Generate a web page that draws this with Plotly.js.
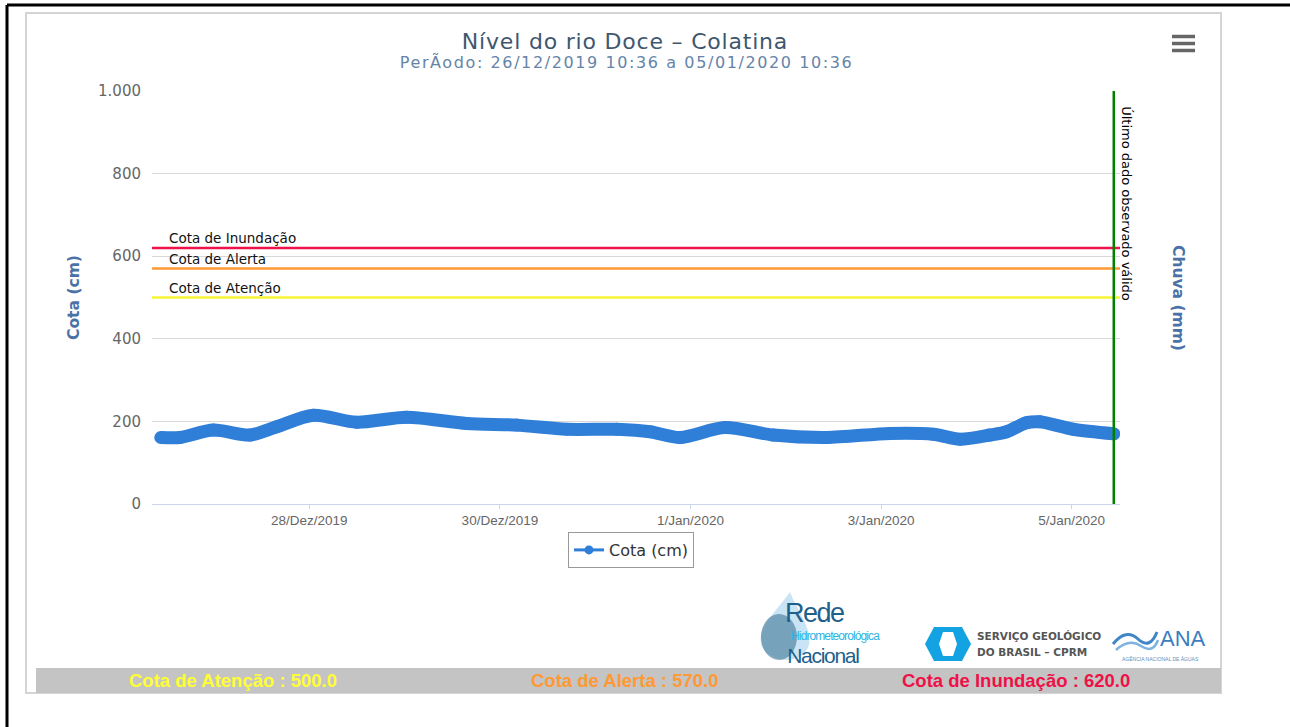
<!DOCTYPE html>
<html>
<head>
<meta charset="utf-8">
<script src="https://cdn.plot.ly/plotly-3.0.1.min.js"></script>
<style>
  html, body { margin: 0; padding: 0; background: #ffffff; }
  #chart { width: 1290px; height: 727px; }
  .gtitle { letter-spacing: 0.8px; }
</style>
</head>
<body>
<div id="chart"></div>
<script>
// ---------------- DATA ----------------
const times = [
  '2019-12-26 10:36', '2019-12-26 15:26', '2019-12-26 23:50', '2019-12-27 09:04',
  '2019-12-27 15:47', '2019-12-28 01:00', '2019-12-28 11:56', '2019-12-29 00:32',
  '2019-12-29 15:39', '2019-12-30 04:14', '2019-12-30 16:50', '2019-12-31 05:25',
  '2019-12-31 13:48', '2019-12-31 21:22', '2020-01-01 08:41', '2020-01-01 20:51',
  '2020-01-02 10:18', '2020-01-03 02:14', '2020-01-03 13:09', '2020-01-03 19:52',
  '2020-01-04 03:26', '2020-01-04 07:38', '2020-01-04 12:40', '2020-01-04 16:00',
  '2020-01-05 00:24', '2020-01-05 10:36'
];
const cota = [
  161, 161, 179, 167,
  187, 215, 198, 210,
  195, 191, 181, 181,
  175, 161, 185, 167,
  161, 171, 169, 157,
  167, 175, 197, 199,
  181, 170
];
const lastValidTime = '2020-01-05 10:36';
const xRange = ['2019-12-26 08:23', '2020-01-05 12:10'];
const xTickVals = ['2019-12-28', '2019-12-30', '2020-01-01', '2020-01-03', '2020-01-05'];
const xTickText = ['28/Dez/2019', '30/Dez/2019', '1/Jan/2020', '3/Jan/2020', '5/Jan/2020'];
const cotaTicks = [0, 200, 400, 600, 800, 1000];
const chuvaTicks = [0, 10, 20, 30, 40, 50];
const thresholdNames = ['Cota de Atenção', 'Cota de Alerta', 'Cota de Inundação'];
const thresholdValues = [500, 570, 620];

// ---------------- STYLE ----------------
const thresholdColors = ['#f6f633', '#ff9933', '#f0124a'];
const footerColors = ['#ffff33', '#ff9933', '#ee1148'];
const L = 152, R = 1120, T = 91, B = 504;
const px = x => (x - L) / (R - L);
const py = y => (B - y) / (B - T);
const P = pts => pts.map(p => (typeof p === 'string') ? p : (px(p[0]) + ',' + py(p[1]))).join(' ');

const shapes = [];
const annotations = [];
const spacing = {};

// outer black frame and inner grey frame
shapes.push({type: 'line', xref: 'paper', yref: 'paper', x0: px(7), x1: px(1295), y0: py(5), y1: py(5), line: {color: '#000', width: 3}});
shapes.push({type: 'line', xref: 'paper', yref: 'paper', x0: px(7), x1: px(7), y0: py(5), y1: py(730), line: {color: '#000', width: 3}});
shapes.push({type: 'rect', xref: 'paper', yref: 'paper', x0: px(26), x1: px(1221), y0: py(13), y1: py(693), line: {color: '#d4d4d4', width: 2}});

// menu icon
[36.5, 43.5, 50.5].forEach(y => shapes.push({type: 'line', xref: 'paper', yref: 'paper', x0: px(1172), x1: px(1195), y0: py(y), y1: py(y), line: {color: '#666', width: 3.5}}));

// thresholds
thresholdValues.forEach((v, i) => {
  shapes.push({type: 'line', xref: 'paper', yref: 'y', x0: 0, x1: 1, y0: v, y1: v, line: {color: thresholdColors[i], width: 2.5}, layer: 'above'});
  annotations.push({xref: 'paper', yref: 'y', x: px(167), y: v, xanchor: 'left', yanchor: 'bottom', yshift: 0,
    text: thresholdNames[i], showarrow: false, font: {family: 'DejaVu Sans', size: 13.5, color: '#111'}});
});

// last valid observation
shapes.push({type: 'line', xref: 'x', yref: 'paper', x0: lastValidTime, x1: lastValidTime, y0: 0, y1: 1, line: {color: '#008000', width: 2.5}, layer: 'above'});
annotations.push({xref: 'x', yref: 'paper', x: lastValidTime, y: py(104), xanchor: 'left', yanchor: 'top', xshift: 3, textangle: 90,
  text: 'Último dado observado válido', showarrow: false, font: {family: 'DejaVu Sans', size: 13, color: '#000'}});

// subtitle
spacing[annotations.length] = '1.6px';
annotations.push({xref: 'paper', yref: 'paper', x: px(626), y: py(63), xanchor: 'center', yanchor: 'middle',
  text: 'PerÃodo: 26/12/2019 10:36 a 05/01/2020 10:36', showarrow: false, font: {family: 'DejaVu Sans', size: 16, color: '#6584a8'}});

// right axis title
annotations.push({xref: 'paper', yref: 'paper', x: px(1178), y: py(298), xanchor: 'center', yanchor: 'middle', textangle: 90,
  text: '<b>Chuva (mm)</b>', showarrow: false, font: {family: 'DejaVu Sans', size: 15.5, color: '#4a72a6'}});

// footer bar
shapes.push({type: 'rect', xref: 'paper', yref: 'paper', x0: px(36), x1: px(1221), y0: py(668), y1: py(693), line: {width: 0}, fillcolor: '#c4c4c4'});
const footerX = [233, 624, 1016];
thresholdNames.forEach((n, i) => {
  annotations.push({xref: 'paper', yref: 'paper', x: px(footerX[i]), y: py(680), xanchor: 'center', yanchor: 'middle',
    text: '<b>' + n + ' : ' + thresholdValues[i].toFixed(1) + '</b>', showarrow: false,
    font: {family: 'Liberation Sans', size: 18.5, color: footerColors[i]}});
});

// logos (approximate)
shapes.push({type: 'path', xref: 'paper', yref: 'paper', path: 'M ' + P([[790, 592]]) + ' C ' + P([[776, 612], [758, 626], [761, 643]]) + ' C ' + P([[764, 662], [802, 668], [809, 645]]) + ' C ' + P([[812, 628], [798, 612], [790, 592]]) + ' Z',
  fillcolor: 'rgba(100,180,225,0.35)', line: {width: 0}});
shapes.push({type: 'circle', xref: 'paper', yref: 'paper', x0: px(761), x1: px(797), y0: py(614), y1: py(660), fillcolor: 'rgba(35,95,130,0.5)', line: {width: 0}});
spacing[annotations.length] = '-1.5px';
annotations.push({xref: 'paper', yref: 'paper', x: px(781), y: py(613), xanchor: 'left', yanchor: 'middle', borderpad: 0, text: 'Rede', showarrow: false,
  font: {family: 'Liberation Sans', size: 27, color: '#1f5f8b'}});
spacing[annotations.length] = '-0.9px';
annotations.push({xref: 'paper', yref: 'paper', x: px(782), y: py(636), xanchor: 'left', yanchor: 'middle', borderpad: 0, text: 'Hidrometeorológica', showarrow: false,
  font: {family: 'Liberation Sans', size: 12, color: '#2ab4e6'}});
spacing[annotations.length] = '-1.3px';
annotations.push({xref: 'paper', yref: 'paper', x: px(781), y: py(655), xanchor: 'left', yanchor: 'middle', borderpad: 0, text: 'Nacional', showarrow: false,
  font: {family: 'Liberation Sans', size: 21, color: '#1f5f8b'}});

shapes.push({type: 'path', xref: 'paper', yref: 'paper', path: 'M ' + P([[934, 627], 'L', [962, 627], 'L', [971, 644], 'L', [962, 661], 'L', [934, 661], 'L', [925, 644]]) + ' Z',
  fillcolor: '#13a2e2', line: {width: 0}});
shapes.push({type: 'path', xref: 'paper', yref: 'paper', path: 'M ' + P([[943, 632], 'L', [953, 632], 'L', [957, 644], 'L', [953, 656], 'L', [943, 656], 'L', [939, 644]]) + ' Z',
  fillcolor: '#ffffff', line: {width: 0}});
annotations.push({xref: 'paper', yref: 'paper', x: px(976), y: py(636), xanchor: 'left', yanchor: 'middle', borderpad: 0, text: '<b>SERVIÇO GEOLÓGICO</b>', showarrow: false,
  font: {family: 'DejaVu Sans', size: 10.5, color: '#555'}});
annotations.push({xref: 'paper', yref: 'paper', x: px(976), y: py(652), xanchor: 'left', yanchor: 'middle', borderpad: 0, text: '<b>DO BRASIL – CPRM</b>', showarrow: false,
  font: {family: 'DejaVu Sans', size: 10.5, color: '#555'}});

shapes.push({type: 'path', xref: 'paper', yref: 'paper', path: 'M ' + P([[1113, 644]]) + ' Q ' + P([[1126, 628], [1138, 639]]) + ' T ' + P([[1157, 632]]),
  line: {color: '#3f86c6', width: 3}});
shapes.push({type: 'path', xref: 'paper', yref: 'paper', path: 'M ' + P([[1116, 650]]) + ' Q ' + P([[1129, 638], [1141, 646]]) + ' T ' + P([[1158, 640]]),
  line: {color: '#7fb2de', width: 2.5}});
annotations.push({xref: 'paper', yref: 'paper', x: px(1159), y: py(638), xanchor: 'left', yanchor: 'middle', borderpad: 0, text: 'ANA', showarrow: false,
  font: {family: 'Liberation Sans', size: 22, color: '#3b7dc0'}});
annotations.push({xref: 'paper', yref: 'paper', x: px(1160), y: py(658), xanchor: 'center', yanchor: 'middle', borderpad: 0, text: 'AGÊNCIA NACIONAL DE ÁGUAS', showarrow: false,
  font: {family: 'Liberation Sans', size: 5, color: '#5a8fc0'}});

// letter spacing tweaks (text rendered wider / narrower in the reference)
const st = document.createElement('style');
st.textContent = Object.keys(spacing).map(k => '.annotation[data-index="' + k + '"] text { letter-spacing: ' + spacing[k] + '; }').join('\n');
document.head.appendChild(st);

// ---------------- TRACES ----------------
const traces = [{
  // thin line (legend sample), fully covered by the thick line
  x: times, y: cota, type: 'scatter', mode: 'lines+markers', name: 'Cota (cm)',
  line: {color: '#2f7ed8', width: 3, shape: 'spline', smoothing: 0.8},
  marker: {color: '#2f7ed8', size: 9},
  hoverinfo: 'skip', showlegend: true
}, {
  x: times, y: cota, type: 'scatter', mode: 'lines+markers', name: 'Cota (cm)',
  line: {color: '#2f7ed8', width: 13, shape: 'spline', smoothing: 0.8},
  marker: {color: '#2f7ed8', size: 13},
  hoverinfo: 'x+y', showlegend: false
}];

const layout = {
  width: 1290, height: 727,
  margin: {l: L, r: 1290 - R, t: T, b: 727 - B},
  paper_bgcolor: '#ffffff', plot_bgcolor: '#ffffff',
  separators: ',.',
  font: {family: 'DejaVu Sans', color: '#666'},
  title: {text: 'Nível do rio Doce – Colatina', xref: 'paper', x: px(625), xanchor: 'center', yref: 'container', y: 1 - 41 / 727, yanchor: 'middle',
    font: {family: 'DejaVu Sans', size: 22, color: '#3e576f'}},
  showlegend: true,
  legend: {x: px(631), xanchor: 'center', y: py(532), yanchor: 'top', orientation: 'h',
    bordercolor: '#999', borderwidth: 1, bgcolor: '#fff', font: {family: 'DejaVu Sans', size: 16, color: '#333'}},
  xaxis: {type: 'date', range: xRange, tickvals: xTickVals, ticktext: xTickText, showgrid: false, zeroline: false,
    showline: true, linecolor: '#ccd6eb', linewidth: 1, ticks: 'outside', ticklen: 4, tickcolor: '#ccd6eb',
    tickfont: {family: 'Liberation Sans', size: 13.5, color: '#666'}},
  yaxis: {range: [0, 1000], tickvals: cotaTicks, separatethousands: true, tickformat: ',d', showgrid: true, gridcolor: '#d8d8d8', gridwidth: 1,
    zeroline: false, showline: false, ticks: '', ticklabelstandoff: 10,
    tickfont: {family: 'DejaVu Sans', size: 15, color: '#666'},
    title: {text: '<b>Cota (cm)</b>', standoff: 14, font: {family: 'DejaVu Sans', size: 15.5, color: '#4a72a6'}}},
  yaxis2: {overlaying: 'y', side: 'right', anchor: 'x', range: [50, 0], tickvals: chuvaTicks, showgrid: false, zeroline: false,
    showline: false, ticks: 'outside', ticklen: 7, tickcolor: '#ccd6eb', ticklabelstandoff: 7,
    tickfont: {family: 'DejaVu Sans', size: 15, color: '#666'}},
  shapes: shapes,
  annotations: annotations
};

Plotly.newPlot('chart', traces, layout, {displayModeBar: false, responsive: false});
</script>
</body>
</html>
